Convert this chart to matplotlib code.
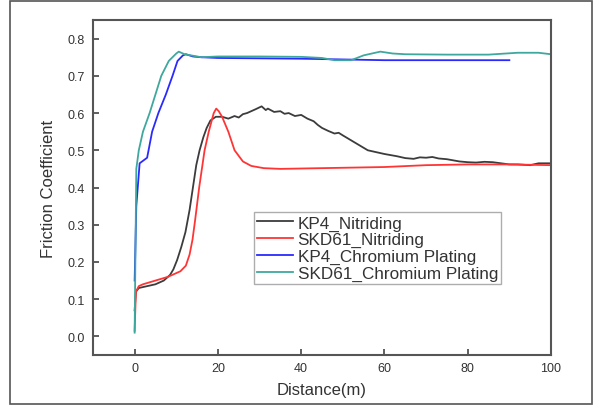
import matplotlib
matplotlib.use("Agg")
import matplotlib.pyplot as plt
from matplotlib.patches import Rectangle

plt.rcParams['font.family'] = ['Liberation Sans', 'DejaVu Sans']

# KP4_Nitriding
kp4_nit_x = [0, 0.3, 1, 3, 5, 7, 8.5, 9.3, 10.2, 11.2, 12.2, 13.2, 14, 14.8, 15.6, 16.5, 17.3, 18.2, 19.5, 21,
             22.5, 24, 25, 26, 27, 28, 29, 30.5, 31.5, 32, 33.5, 35, 36, 37, 38.5, 40, 41.5, 43, 44, 45, 46.5, 48,
             49, 50, 51.5, 53, 54.5, 56, 58, 60, 61.5, 63, 65, 67, 68.5, 70, 71.5, 73, 75, 78, 80, 82, 84, 86, 88,
             90, 92, 95, 97, 100]
kp4_nit_y = [0.07, 0.12, 0.13, 0.135, 0.14, 0.15, 0.165, 0.18, 0.205, 0.24, 0.28, 0.34, 0.4, 0.46, 0.5, 0.535,
             0.56, 0.58, 0.59, 0.59, 0.585, 0.592, 0.588, 0.597, 0.6, 0.605, 0.61, 0.618, 0.608, 0.612, 0.603, 0.605,
             0.598, 0.6, 0.592, 0.595, 0.585, 0.578, 0.568, 0.56, 0.552, 0.545, 0.547, 0.54, 0.53, 0.52, 0.51, 0.5,
             0.495, 0.49, 0.487, 0.484, 0.479, 0.477, 0.481, 0.48, 0.482, 0.478, 0.476, 0.47, 0.468, 0.467, 0.469,
             0.468, 0.465, 0.462, 0.462, 0.46, 0.465, 0.465]

# SKD61_Nitriding
skd_nit_x = [0, 0.3, 1, 2, 5, 8, 11, 12.3, 13.2, 13.9, 14.5, 15.5, 16.8, 17.8, 19, 19.6, 20.2, 21, 22.5, 24, 26,
             28, 31, 35, 40, 50, 60, 70, 80, 90, 100]
skd_nit_y = [0.015, 0.12, 0.135, 0.14, 0.15, 0.16, 0.175, 0.19, 0.22, 0.26, 0.31, 0.4, 0.5, 0.55, 0.6, 0.612,
             0.605, 0.59, 0.55, 0.5, 0.47, 0.458, 0.452, 0.45, 0.451, 0.453, 0.455, 0.46, 0.462, 0.462, 0.46]

# KP4_Chromium Plating
kp4_cr_x = [0, 0.4, 1.2, 3, 4.2, 5.7, 7.5, 9.1, 10.3, 11.6, 12.3, 14, 16, 20, 30, 40, 50, 60, 70, 80, 90]
kp4_cr_y = [0.15, 0.35, 0.465, 0.48, 0.55, 0.6, 0.65, 0.7, 0.74, 0.755, 0.758, 0.752, 0.75, 0.748, 0.747, 0.746,
            0.744, 0.742, 0.742, 0.742, 0.742]

# SKD61_Chromium Plating
skd_cr_x = [0, 0.4, 1, 2, 3.6, 5, 6.4, 8.2, 10, 10.6, 12, 14, 16, 20, 30, 40, 45, 48, 52, 55, 59, 62, 65, 75,
            85, 92, 97, 100]
skd_cr_y = [0.01, 0.45, 0.5, 0.55, 0.6, 0.65, 0.7, 0.74, 0.76, 0.765, 0.758, 0.754, 0.75, 0.752, 0.752, 0.751,
            0.748, 0.742, 0.742, 0.755, 0.765, 0.76, 0.758, 0.757, 0.757, 0.762, 0.762, 0.758]

labels = ['KP4_Nitriding', 'SKD61_Nitriding', 'KP4_Chromium Plating', 'SKD61_Chromium Plating']
colors = ['#3c3c3c', '#ff3535', '#2a2aff', '#3fa89e']

fig = plt.figure(figsize=(5.93, 4.06), dpi=100)
ax = fig.add_axes([93/593, 1 - 356/406, 458/593, 335/406])

series = [(kp4_nit_x, kp4_nit_y), (skd_nit_x, skd_nit_y), (kp4_cr_x, kp4_cr_y), (skd_cr_x, skd_cr_y)]
for (xs, ys), lab, c in zip(series, labels, colors):
    ax.plot(xs, ys, color=c, lw=1.3, label=lab)

ax.set_xlim(-10, 100)
ax.set_ylim(-0.05, 0.85)
ax.set_xticks([0, 20, 40, 60, 80, 100])
ax.set_yticks([0.0, 0.1, 0.2, 0.3, 0.4, 0.5, 0.6, 0.7, 0.8])
ax.set_yticklabels(['0.0', '0.1', '0.2', '0.3', '0.4', '0.5', '0.6', '0.7', '0.8'])
ax.tick_params(direction='in', length=4, width=1.2, color='#444444', labelsize=9, labelcolor='#333333')
ax.tick_params(axis='y', pad=6)
ax.tick_params(axis='x', pad=5)
for s in ax.spines.values():
    s.set_color('#555555')
    s.set_linewidth(1.5)

ax.set_xlabel('Distance(m)', fontsize=12, color='#333333', labelpad=6)
ax.set_ylabel('Friction Coefficient', fontsize=12, color='#333333', labelpad=8)

leg = ax.legend(loc='upper left', bbox_to_anchor=(0.3515, 0.427), fontsize=12.3, frameon=True,
                fancybox=False, edgecolor='#999999', handlelength=2.1, handletextpad=0.25,
                labelspacing=0.1, borderpad=0.2, borderaxespad=0)
leg.get_frame().set_linewidth(1.0)
for t in leg.get_texts():
    t.set_color('#333333')

fig.patches.append(Rectangle((10/593, 1/406), 582/593, 403/406, transform=fig.transFigure,
                             fill=False, edgecolor='#555555', lw=1.2))

fig.savefig('out.png', dpi=100)
